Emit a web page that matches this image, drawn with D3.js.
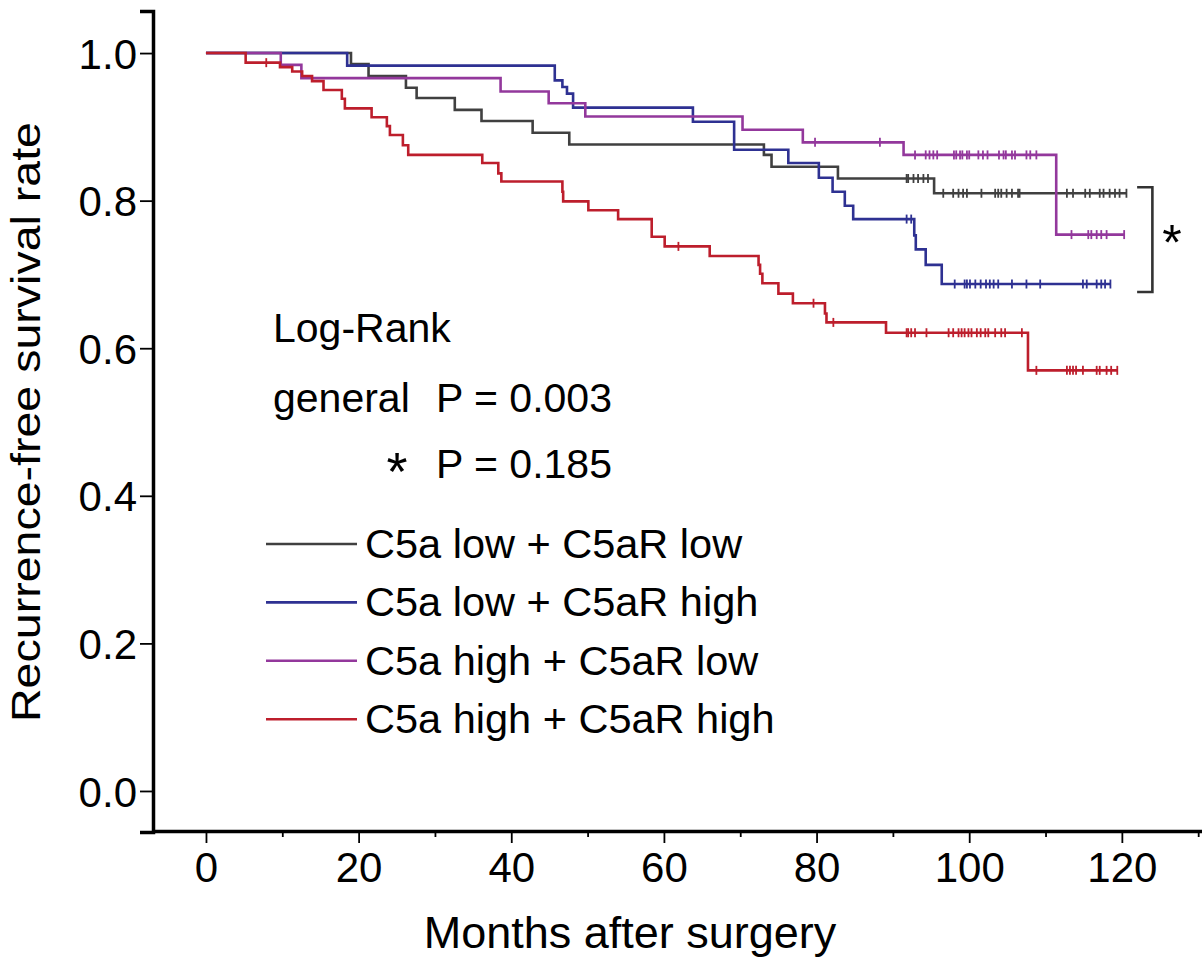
<!DOCTYPE html>
<html><head><meta charset="utf-8">
<script src="https://cdn.jsdelivr.net/npm/d3@7/dist/d3.min.js"></script>
<style>
html,body{margin:0;padding:0;background:#fff;}
svg{display:block;}
text{font-family:"Liberation Sans",Arial,Helvetica,sans-serif;fill:#000;}
</style>
</head><body>
<svg id="chart" width="1202" height="959"></svg>
<script>
// ---------- data ----------
const seriesNames = ["C5a low + C5aR low", "C5a low + C5aR high", "C5a high + C5aR low", "C5a high + C5aR high"];
const seriesColors = ["#404040", "#2e3192", "#93389c", "#bd1e2c"];

// C5a low + C5aR low
const llTimes = [0, 19.0, 21.3, 26.2, 27.6, 32.6, 36.1, 42.8, 47.6, 73.1, 74.1, 82.8, 95.4];
const llSurv  = [1, 0.985, 0.969, 0.953, 0.939, 0.923, 0.908, 0.892, 0.876, 0.862, 0.846, 0.830, 0.810];
const llCensor = [91.8, 92.0, 92.7, 93.3, 94.0, 94.6, 96.6, 97.9, 98.6, 99.2, 99.7, 101.6, 103.4, 103.8, 104.2, 104.9, 105.6, 106.4, 106.6, 112.8, 113.6, 115.2, 115.8, 117.1, 117.6, 118.4, 119.1, 119.7, 120.6];

// C5a low + C5aR high
const lhTimes = [0, 18.5, 45.7, 46.7, 47.3, 48.1, 63.8, 69.2, 76.3, 80.3, 82.1, 83.7, 84.8, 92.8, 93.0, 94.3, 96.4];
const lhSurv  = [1, 0.983, 0.963, 0.954, 0.945, 0.926, 0.907, 0.869, 0.851, 0.831, 0.812, 0.793, 0.775, 0.753, 0.734, 0.713, 0.687];
const lhCensor = [91.8, 92.4, 98.1, 99.4, 99.7, 100.1, 100.8, 101.5, 102.2, 102.7, 103.2, 103.8, 105.6, 107.5, 109.3, 114.9, 115.4, 116.7, 117.3, 117.8, 118.5];

// C5a high + C5aR low
const hlTimes = [0, 9.8, 12.5, 38.6, 44.9, 49.7, 70.3, 78.2, 91.4, 111.4];
const hlSurv  = [1, 0.984, 0.966, 0.948, 0.932, 0.914, 0.896, 0.879, 0.862, 0.754];
const hlCensor = [79.8, 88.3, 92.9, 94.3, 94.8, 95.3, 95.8, 98.0, 98.3, 98.8, 99.1, 99.7, 100.0, 101.2, 101.8, 102.4, 103.9, 104.5, 104.8, 105.6, 106.0, 107.5, 108.0, 108.8, 113.4, 115.6, 116.0, 116.7, 117.3, 118.0, 120.3];

// C5a high + C5aR high
const hhTimes = [0, 5.2, 9.7, 11.3, 12.6, 13.9, 15.4, 17.8, 18.2, 21.7, 23.7, 24.1, 25.8, 26.5, 36.2, 38.3, 38.7, 46.7, 46.8, 50.1, 54.0, 58.4, 60.1, 66.0, 72.4, 72.6, 72.9, 75.0, 76.9, 81.1, 81.3, 89.1, 107.7];
const hhSurv  = [1, 0.987, 0.981, 0.975, 0.969, 0.962, 0.950, 0.938, 0.925, 0.913, 0.901, 0.889, 0.875, 0.862, 0.851, 0.837, 0.826, 0.812, 0.799, 0.787, 0.775, 0.751, 0.738, 0.725, 0.713, 0.701, 0.688, 0.674, 0.661, 0.647, 0.635, 0.621, 0.570];
const hhCensor = [7.9, 61.9, 79.6, 82.2, 91.8, 92.0, 92.4, 92.9, 94.4, 97.3, 97.9, 98.6, 99.0, 99.4, 99.9, 100.3, 101.0, 101.5, 102.1, 102.5, 103.4, 104.2, 104.7, 106.9, 108.8, 112.8, 113.2, 113.6, 114.0, 114.9, 116.7, 117.1, 118.0, 118.6, 119.4];

const xTicks = [0, 10, 20, 30, 40, 50, 60, 70, 80, 90, 100, 110, 120, 130];
const xTickLabels = ["0", "", "20", "", "40", "", "60", "", "80", "", "100", "", "120", ""];
const yTicks = [0, 0.2, 0.4, 0.6, 0.8, 1.0];
const yTickLabels = ["0.0", "0.2", "0.4", "0.6", "0.8", "1.0"];

const xTitle = "Months after surgery";
const yTitle = "Recurrence-free survival rate";
const statTitle = "Log-Rank";
const statLabels = ["general", "*"];
const statValues = ["P = 0.003", "P = 0.185"];
const bracketMark = "*";

// ---------- drawing ----------
const svg = d3.select("#chart");
const x = d3.scaleLinear().domain([-6.94, 130.5]).range([153, 1202]);
const y = d3.scaleLinear().domain([-0.0556, 1.057]).range([832, 11]);

const series = [
  {times: llTimes, surv: llSurv, censor: llCensor},
  {times: lhTimes, surv: lhSurv, censor: lhCensor},
  {times: hlTimes, surv: hlSurv, censor: hlCensor},
  {times: hhTimes, surv: hhSurv, censor: hhCensor}
].map((s, i) => Object.assign(s, {name: seriesNames[i], color: seriesColors[i], end: d3.max(s.censor)}));

function survAt(s, t) {
  const i = d3.bisectRight(s.times, t) - 1;
  return s.surv[Math.max(0, i)];
}

const line = d3.line().x(d => x(d[0])).y(d => y(d[1])).curve(d3.curveStepAfter);

const plot = svg.append("g");
series.forEach(s => {
  const pts = s.times.map((t, i) => [t, s.surv[i]]);
  pts.push([s.end, s.surv[s.surv.length - 1]]);
  plot.append("path").attr("d", line(pts))
    .attr("fill", "none").attr("stroke", s.color).attr("stroke-width", 2.6)
    .attr("stroke-linejoin", "miter").attr("stroke-linecap", "butt");
  plot.append("g").selectAll("line").data(s.censor).join("line")
    .attr("x1", d => x(d)).attr("x2", d => x(d))
    .attr("y1", d => y(survAt(s, d)) - 4.5).attr("y2", d => y(survAt(s, d)) + 4.5)
    .attr("stroke", s.color).attr("stroke-width", 1.8);
});

// Axes
const xAxisG = svg.append("g").attr("transform", `translate(0,${y.range()[0] - 1})`)
  .call(d3.axisBottom(x).tickValues(xTicks).tickSizeOuter(0).tickFormat((d, i) => xTickLabels[i]));
xAxisG.select(".domain").attr("stroke", "#000").attr("stroke-width", 3.5);
xAxisG.selectAll(".tick line").attr("stroke", "#000").attr("stroke-width", 1.8)
  .attr("y2", (d, i) => xTickLabels[i] ? 12 : 6);
xAxisG.selectAll(".tick text").attr("y", 51).attr("dy", 0)
  .style("font-size", "42px").style("font-family", '"Liberation Sans",Arial,sans-serif').attr("fill", "#000");

const yAxisG = svg.append("g").attr("transform", `translate(${x.range()[0]},0)`)
  .call(d3.axisLeft(y).tickValues(yTicks).tickSizeOuter(0).tickSize(13).tickPadding(3)
    .tickFormat((d, i) => yTickLabels[i]));
yAxisG.select(".domain").attr("stroke", "#000").attr("stroke-width", 3.5);
yAxisG.selectAll(".tick line").attr("stroke", "#000").attr("stroke-width", 1.8);
yAxisG.selectAll(".tick text").attr("dy", "0.36em")
  .style("font-size", "42px").style("font-family", '"Liberation Sans",Arial,sans-serif').attr("fill", "#000");

// Axis titles
svg.append("text").attr("x", 630).attr("y", 948).attr("text-anchor", "middle")
  .style("font-size", "45px").text(xTitle);
svg.append("text").attr("transform", "translate(40,422) rotate(-90)").attr("text-anchor", "middle")
  .attr("textLength", 600).attr("lengthAdjust", "spacingAndGlyphs")
  .style("font-size", "41px").text(yTitle);

// Statistic text
svg.append("text").attr("x", 273).attr("y", 342).style("font-size", "41px").text(statTitle);
svg.append("text").attr("x", 273).attr("y", 412).style("font-size", "41px").text(statLabels[0]);
svg.append("text").attr("x", 436).attr("y", 412).style("font-size", "41px").text(statValues[0]);
svg.append("text").attr("x", 397).attr("y", 490).attr("text-anchor", "middle")
  .style("font-size", "54px").text(statLabels[1]);
svg.append("text").attr("x", 436).attr("y", 478).style("font-size", "41px").text(statValues[1]);

// Legend
const legend = svg.append("g");
series.forEach((s, i) => {
  const ly = 544 + i * 58.4;
  legend.append("line").attr("x1", 266).attr("x2", 357).attr("y1", ly).attr("y2", ly)
    .attr("stroke", s.color).attr("stroke-width", 2.6);
  legend.append("text").attr("x", 365).attr("y", ly + 14).style("font-size", "41.5px").text(s.name);
});

// Bracket between low/low and low/high at the end of follow-up
const bTop = y(survAt(series[0], 120)) - 6;
const bBot = y(survAt(series[1], 118)) + 8;
svg.append("path")
  .attr("d", `M${x(122)},${bTop}H${x(124)}V${bBot}H${x(122)}`)
  .attr("fill", "none").attr("stroke", "#333").attr("stroke-width", 2.6);
svg.append("text").attr("x", 1172).attr("y", 260).attr("text-anchor", "middle")
  .style("font-size", "50px").text(bracketMark);
</script>
</body></html>
